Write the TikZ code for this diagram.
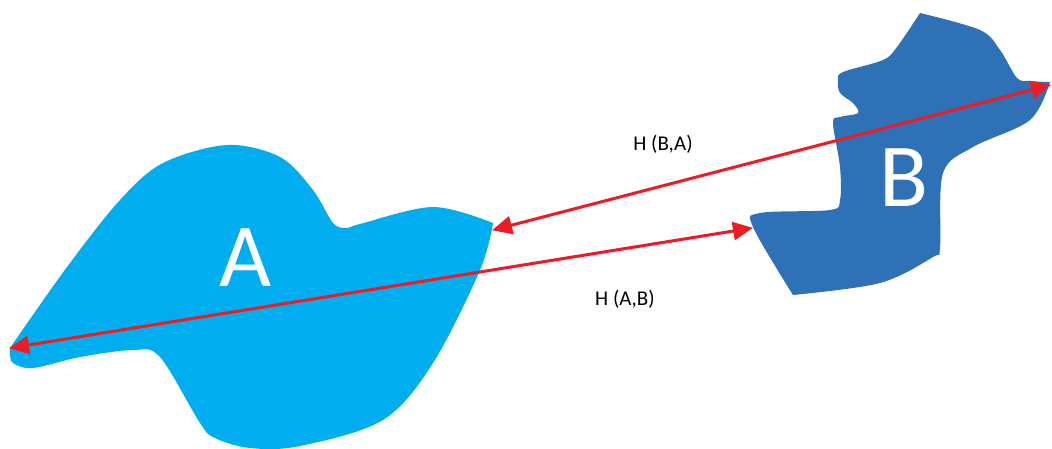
\documentclass[tikz,border=0pt]{standalone}
\usepackage{fontspec}
\setmainfont{Carlito}
\usetikzlibrary{arrows.meta}
\definecolor{blobA}{HTML}{00AEEF}
\definecolor{blobB}{HTML}{2E71B6}
\definecolor{hred}{HTML}{ED1C24}
\tikzset{
  harrow/.style={draw=hred, line width=3pt, {Triangle[length=20pt,width=18pt]}-{Triangle[length=20pt,width=18pt]}, shorten <=-1pt, shorten >=-1pt},
  biglabel/.style={text=white, font=\fontsize{90}{90}\selectfont, inner sep=0pt},
  hlabel/.style={text=black, font=\fontsize{21}{21}\selectfont, inner sep=0pt}
}
\begin{document}
\begin{tikzpicture}[x=1pt,y=-1pt]
\useasboundingbox (0,0) rectangle (1052,448);
% blob A
\fill[blobA] plot[smooth, tension=0.55] coordinates {
 (10,348) (67,267) (120,200) (163,163) (227,145) (280,157) (313,190) (333,223)
 (347,228) (360,224) (433,207) (493,223)}
 -- plot[smooth, tension=0.55] coordinates {
 (493,223) (480,270) (433,363) (383,420) (300,446) (250,448) (215,438) (200,423)
 (160,357) (133,350) (80,357) (33,368) (13,363) (10,353) (10,348)} -- cycle;
% blob B
\fill[blobB] plot[smooth, tension=0.55] coordinates {
 (793,295) (753,227) (760,213) (830,210) (840,200) (840,167) (833,123) (840,117)
 (858,113) (853,103) (840,93) (838,80) (843,72) (883,60) (897,47) (920,13)}
 -- plot[smooth, tension=0.55] coordinates {
 (920,13) (980,30) (1000,50) (1017,78) (1030,81) (1050,82)}
 -- plot[smooth, tension=0.55] coordinates {
 (1050,82) (1030,120) (973,147) (943,173) (940,247) (933,257) (880,283) (793,295)}
 -- cycle;
\node[biglabel] (la) at (246,258) {A};
\node[biglabel] (lb) at (904,178) {B};
\coordinate (a1) at (10,348);
\coordinate (b1) at (752,228);
\coordinate (a2) at (493,230);
\coordinate (b2) at (1050,85);
\draw[harrow] (a1) -- (b1);
\draw[harrow] (a2) -- (b2);
\node[hlabel] (hba) at (663,144) {H (B,A)};
\node[hlabel] (hab) at (625,299) {H (A,B)};
\end{tikzpicture}
\end{document}
